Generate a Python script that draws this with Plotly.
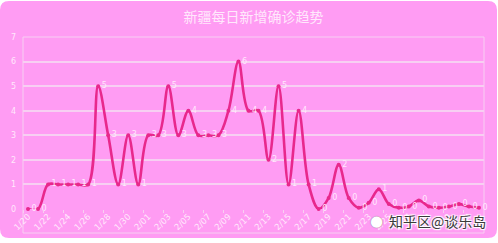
import plotly.graph_objects as go
import pandas as pd

title_text = "新疆每日新增确诊趋势"
dates = [d.strftime("%-m/%d") for d in pd.date_range("2020-01-20", "2020-03-05")]
values = [0, 0, 1, 1, 1, 1, 1, 5, 3, 1, 3, 1, 3, 3, 5, 3, 4, 3, 3, 3, 4, 6, 4, 4, 2, 5, 1, 4, 1,
          0, 0.45, 1.8, 0.45, 0.05, 0.25, 0.8, 0.2, 0.05, 0.1, 0.35, 0.1, 0.05, 0.1, 0.2, 0.1, 0.05]
y_ticks = [0, 1, 2, 3, 4, 5, 6, 7]
watermark = "知乎区@谈乐岛"

W, H = 498, 243
ML, MR, MT, MB = 23, 14, 37, 34
PW, PH = W - ML - MR, H - MT - MB

BG = "#ff9cf3"
LINE = "#e8288c"
GRID = "#f7cff2"
TXT = "#ffe8fc"

idx = list(range(len(dates)))

def px(x):
    return (x - ML) / PW

def py(y):
    return (H - MB - y) / PH

def rounded_rect(x0, y0, x1, y1, r):
    p = []
    p.append(f"M {px(x0 + r)} {py(y0)}")
    p.append(f"L {px(x1 - r)} {py(y0)}")
    p.append(f"Q {px(x1)} {py(y0)} {px(x1)} {py(y0 + r)}")
    p.append(f"L {px(x1)} {py(y1 - r)}")
    p.append(f"Q {px(x1)} {py(y1)} {px(x1 - r)} {py(y1)}")
    p.append(f"L {px(x0 + r)} {py(y1)}")
    p.append(f"Q {px(x0)} {py(y1)} {px(x0)} {py(y1 - r)}")
    p.append(f"L {px(x0)} {py(y0 + r)}")
    p.append(f"Q {px(x0)} {py(y0)} {px(x0 + r)} {py(y0)}")
    p.append("Z")
    return " ".join(p)

fig = go.Figure()
fig.add_trace(go.Scatter(
    x=idx, y=values,
    mode="lines+markers+text",
    line=dict(color=LINE, width=2.6, shape="spline", smoothing=1.0),
    marker=dict(color=LINE, size=4),
    texttemplate="%{y:.0f}",
    textposition="middle right",
    textfont=dict(color=TXT, size=8, family="DejaVu Sans"),
    cliponaxis=False,
    hoverinfo="skip",
))

fig.update_layout(
    width=W, height=H,
    margin=dict(l=ML, r=MR, t=MT, b=MB),
    paper_bgcolor="white",
    plot_bgcolor="rgba(0,0,0,0)",
    showlegend=False,
    title=dict(text=title_text, x=0.5, xanchor="center", xref="paper", y=1 - 17 / H, yanchor="middle",
               font=dict(size=14, color=TXT, family="Noto Sans CJK SC")),
    shapes=[
        dict(type="path", xref="paper", yref="paper", path=rounded_rect(0, 1, 497, 238, 9),
             fillcolor=BG, line=dict(width=0), layer="below"),
        dict(type="rect", xref="paper", yref="paper", x0=0, x1=1, y0=py(233), y1=1,
             line=dict(color=GRID, width=1), fillcolor="rgba(0,0,0,0)", layer="below"),
    ],
)

fig.update_xaxes(
    range=[-0.5, len(dates) - 0.5],
    tickmode="array",
    tickvals=idx[::2],
    ticktext=dates[::2],
    tickangle=-45,
    tickfont=dict(size=8.5, color=TXT, family="DejaVu Sans"),
    showgrid=False,
    showline=False,
    zeroline=False,
    ticks="",
    minor=dict(tickmode="array", tickvals=[i - 0.5 for i in idx[::2]], ticks="outside",
               ticklen=3, tickcolor=GRID, showgrid=False),
)
fig.update_yaxes(
    range=[0, 7],
    tickvals=y_ticks,
    showgrid=True, gridcolor=GRID, gridwidth=1.5,
    zeroline=False, showline=False,
    tickfont=dict(size=8, color=TXT, family="DejaVu Sans"),
    ticklabelstandoff=6,
)

fig.add_annotation(
    xref="paper", yref="paper", x=px(488), y=py(221), xanchor="right", yanchor="middle",
    text=watermark, showarrow=False,
    font=dict(size=14, color="#3a3a3a", family="Noto Sans CJK SC",
              shadow="1px 1px 1px white, -1px -1px 1px white, 1px -1px 1px white, -1px 1px 1px white"),
)
fig.add_annotation(
    xref="paper", yref="paper", x=px(376), y=py(221), xanchor="center", yanchor="middle",
    text="●", showarrow=False,
    font=dict(size=15, color="white", family="DejaVu Sans",
              shadow="0px 0px 1px #666"),
)

fig.write_html("out.html")
